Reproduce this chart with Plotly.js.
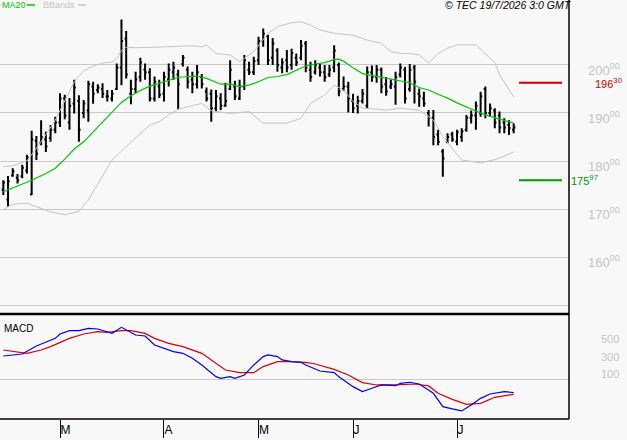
<!DOCTYPE html>
<html><head><meta charset="utf-8">
<script src="https://cdn.plot.ly/plotly-3.0.1.min.js"></script>
<style>html,body{margin:0;padding:0;background:#f8f8f8;}</style>
</head><body><div id="chart" style="width:627px;height:440px;"></div>
<script>
// ---- categories: trading days (Euronext calendar) ----
const startDate = '2026-02-12', endDate = '2026-07-17';
const holidays = ['2026-04-03', '2026-04-06', '2026-05-01'];
const monthLetters = ['J','F','M','A','M','J','J','A','S','O','N','D'];

// ---- OHLC series ----
const highs = [176.0,176.9,178.5,177.3,179.2,181.3,186.3,185.2,188.5,186.1,
187.5,189.2,194.1,193.8,193.1,196.9,193.7,192.7,196.7,196.5,
196.0,196.2,194.8,194.8,200.3,209.5,207.1,196.9,198.6,201.5,
200.3,199.3,197.6,196.9,198.6,200.3,200.7,199.0,202.1,199.7,
198.6,200.0,198.1,195.3,194.9,194.8,194.1,196.3,201.0,196.7,
196.9,202.1,200.7,201.7,205.9,207.6,206.3,205.6,203.5,201.4,
203.1,203.4,202.4,205.2,205.0,200.7,201.0,200.3,200.0,200.0,
204.1,200.5,197.6,196.5,194.0,193.6,195.0,199.7,199.9,200.0,
199.5,197.5,197.0,198.6,200.3,199.6,200.2,200.0,195.1,194.4,
190.6,190.6,186.5,182.5,185.8,186.1,186.5,186.8,189.6,190.5,
192.4,194.4,195.5,192.0,191.0,190.3,188.9,188.5,187.8];
const lows = [172.9,170.5,176.7,175.3,176.4,177.4,172.9,180.2,183.3,181.9,
184.0,185.8,187.1,188.7,186.5,189.9,184.0,188.9,188.2,191.9,
194.1,193.1,192.4,192.4,194.8,195.8,197.2,191.8,194.1,196.5,
196.9,192.4,192.4,193.1,192.4,195.5,196.9,190.8,199.7,195.1,
194.1,195.1,195.1,192.4,188.2,190.3,190.6,191.3,194.8,192.7,
192.7,194.8,197.9,197.9,200.0,203.8,200.0,200.0,198.6,198.3,
198.5,199.0,199.8,201.0,198.5,196.5,198.0,197.6,196.5,197.5,
198.5,193.5,194.6,190.1,190.0,189.9,192.0,191.0,196.5,196.3,
194.1,193.6,195.0,191.7,197.4,192.0,194.4,192.0,191.3,191.3,
187.2,183.3,183.3,176.7,183.7,184.0,183.3,184.0,186.1,187.8,
186.5,189.2,188.9,189.2,186.8,185.8,185.8,185.4,185.8];
const opens = [174.0,172.0,177.0,176.5,176.8,178.0,173.0,184.2,183.8,184.5,
184.8,186.5,188.0,193.0,188.0,192.0,192.5,190.0,190.5,195.5,
194.8,195.0,193.5,193.0,195.0,199.5,205.5,194.0,195.0,197.5,
199.0,198.5,193.0,195.5,194.0,197.0,198.5,198.0,200.2,199.0,
197.0,196.0,197.5,194.5,194.0,191.0,193.0,191.5,195.0,195.5,
193.0,195.5,199.0,198.5,201.0,205.0,206.0,201.5,203.0,199.5,
201.0,200.0,201.5,201.5,204.5,199.0,198.5,199.5,198.5,198.0,
199.5,200.0,195.0,195.5,192.5,191.5,192.5,191.5,198.5,197.5,
199.0,196.0,195.5,195.5,198.0,199.0,195.0,199.5,194.0,193.0,
190.0,189.0,185.5,182.0,184.0,185.5,184.0,185.0,186.5,189.0,
189.5,190.0,195.0,190.0,190.5,189.5,188.0,187.5,186.5];
const closes = [175.5,175.8,177.8,176.0,178.6,180.8,184.5,181.5,185.0,183.0,
186.5,188.0,193.0,189.5,191.5,195.3,186.5,192.0,196.0,194.0,
195.3,194.0,193.5,194.0,199.5,205.0,198.0,195.0,197.0,200.5,
198.5,193.0,196.5,193.8,197.5,199.0,199.5,196.0,201.5,196.5,
196.0,198.5,196.0,193.0,191.0,193.5,191.5,192.5,199.0,193.5,
195.5,201.0,198.5,200.8,205.0,206.5,201.0,204.5,200.0,200.5,
199.5,202.5,200.5,204.0,199.5,197.5,200.0,198.5,197.5,199.0,
203.0,194.5,195.5,193.0,191.0,192.5,194.0,198.5,197.5,199.0,
195.5,194.5,196.0,197.5,199.5,193.0,199.0,196.5,193.5,192.0,
189.0,185.0,184.0,180.5,185.0,184.5,186.0,186.2,189.0,189.5,
191.5,193.5,190.0,191.0,188.0,187.0,187.0,186.8,187.0];

// ---- MA20 (read at sampled bars) ----
const maIdx = [0,3,6,9,11,13,15,17,19,21,23,25,27,29,31,33,35,37,39,41,43,44,46,48,50,52,54,56,58,60,62,64,66,68,70,71,72,74,76,78,80,82,84,86,88,90,92,94,96,98,100,102,104,106,108];
const maVal = [173.6,174.8,176.0,177.4,178.5,180.4,182.5,184.0,186.0,188.0,190.0,192.2,193.6,194.7,195.6,196.2,196.7,197.4,197.6,197.7,197.2,196.8,196.0,196.0,195.5,195.8,196.5,197.4,197.6,198.0,198.9,199.8,200.2,200.5,201.1,201.2,200.8,199.4,198.2,197.8,197.5,197.0,196.6,196.3,195.3,194.8,193.9,193.1,192.1,191.2,190.4,189.6,189.0,188.5,187.9];

// ---- Bollinger bands (read at sampled bars) ----
const upIdx = [0,2,5,8,11,13,15,17,19,21,23,24,25,26,28,32,36,40,42,43,45,48,50,53,56,58,61,63,65,67,70,74,77,80,82,84,86,88,90,92,94,96,100,102,104,105,107,108];
const upVal = [178.8,179.0,180.0,184.0,188.5,192.5,196.5,198.8,199.8,200.4,200.6,201.5,203.0,203.7,203.6,203.7,203.8,204.0,203.8,204.2,202.4,202.1,200.7,202.8,206.6,208.0,208.8,209.0,208.3,207.3,206.6,206.2,205.2,204.5,202.8,202.4,202.4,202.1,200.4,202.4,203.5,204.2,204.2,202.4,200.5,197.9,194.8,193.3];
const loIdx = [0,2,5,7,10,13,16,18,20,23,26,29,31,33,35,37,39,41,42,44,48,52,55,60,63,65,67,68,70,72,74,76,79,81,84,88,91,93,95,97,99,101,104,106,108];
const loVal = [169.8,171.0,171.2,170.5,169.4,168.8,169.5,171.9,175.3,180.2,183.0,185.8,187.5,188.2,189.6,190.8,191.3,191.7,192.0,190.5,189.9,190.3,187.9,187.9,188.9,192.0,193.1,193.7,195.8,194.8,192.4,191.0,190.8,190.6,191.0,190.6,188.5,185.1,182.6,180.2,179.9,179.6,180.3,181.0,181.9];

// ---- MACD (read at sampled bars) ----
const macdIdx = [0,4,7,11,12,14,16,18,20,22,23,25,26,28,30,32,36,38,40,42,45,46,48,49,51,53,55,56,58,59,61,63,64,67,70,71,74,76,78,80,83,84,86,88,91,93,95,97,99,101,103,106,108];
const macdVal = [2.66,2.89,3.80,4.68,5.18,5.56,5.56,5.83,5.75,5.44,5.25,5.94,5.64,5.06,4.95,3.92,3.16,2.97,2.40,1.64,0.30,0.11,0.30,0.11,0.49,1.64,2.59,2.78,2.59,2.21,2.02,1.94,1.64,0.95,0.76,0.30,-0.84,-1.41,-1.03,-0.65,-0.73,-0.46,-0.34,-0.54,-1.60,-3.13,-3.39,-3.62,-2.94,-2.18,-1.68,-1.41,-1.52];
const sigIdx = [0,3,5,8,10,14,17,20,22,25,27,30,32,35,38,42,45,47,50,53,55,58,61,64,66,70,73,76,79,83,87,90,92,95,98,101,104,108];
const sigVal = [3.35,3.16,2.97,3.35,3.73,4.68,5.18,5.44,5.37,5.56,5.56,5.25,4.68,4.11,3.73,2.97,1.83,1.06,0.76,0.76,1.45,2.02,2.02,1.94,1.75,1.14,0.49,-0.38,-0.65,-0.65,-0.54,-0.76,-1.60,-2.29,-2.86,-2.75,-2.06,-1.72];

// ---- levels & tick labels ----
const resistance = 196.30, support = 175.97;
const priceTicks = [150,160,170,180,190,200];
const priceTickText = ['', '160<sup>00</sup>','170<sup>00</sup>','180<sup>00</sup>','190<sup>00</sup>','200<sup>00</sup>'];
const macdTicks = [1,3,5];
const macdTickText = ['100','300','500'];

// build trading-day categories
const dates = [];
(function(){
  let d = new Date(startDate + 'T00:00:00Z');
  const end = new Date(endDate + 'T00:00:00Z');
  while (d <= end) {
    const s = d.toISOString().slice(0,10);
    const wd = d.getUTCDay();
    if (wd !== 0 && wd !== 6 && holidays.indexOf(s) < 0) dates.push(s);
    d = new Date(d.getTime() + 86400000);
  }
})();
const tickDates = [], tickText = [];
for (let i = 1; i < dates.length; i++) {
  if (dates[i].slice(5,7) !== dates[i-1].slice(5,7)) {
    tickDates.push(dates[i]);
    tickText.push(monthLetters[parseInt(dates[i].slice(5,7),10)-1]);
  }
}
const toX = idx => idx.map(i => dates[i]);

const W = 569, H = 419; // plot area in px
const px = x => x / W;
const py = y => 1 - y / H;
const FONT = 'Liberation Sans, Arial, sans-serif';

const traces = [
  {type:'ohlc', x:dates, open:opens, high:highs, low:lows, close:closes, xaxis:'x', yaxis:'y',
   tickwidth:0.35, increasing:{line:{color:'#000', width:2}}, decreasing:{line:{color:'#000', width:2}}},
  {type:'scatter', mode:'lines', x:toX(upIdx), y:upVal, line:{color:'#c4c4c4', width:1}, xaxis:'x', yaxis:'y', hoverinfo:'skip'},
  {type:'scatter', mode:'lines', x:toX(loIdx), y:loVal, line:{color:'#c4c4c4', width:1}, xaxis:'x', yaxis:'y', hoverinfo:'skip'},
  {type:'scatter', mode:'lines', x:toX(maIdx), y:maVal, line:{color:'#00c800', width:1.2}, xaxis:'x', yaxis:'y', hoverinfo:'skip'},
  {type:'scatter', mode:'lines', x:toX(sigIdx), y:sigVal, line:{color:'#dd0000', width:1.2}, xaxis:'x', yaxis:'y2', hoverinfo:'skip'},
  {type:'scatter', mode:'lines', x:toX(macdIdx), y:macdVal, line:{color:'#0000ee', width:1.2}, xaxis:'x', yaxis:'y2', hoverinfo:'skip'}
];

const layout = {
  width:627, height:440,
  margin:{l:0, r:58, t:0, b:21, pad:0},
  paper_bgcolor:'#f8f8f8', plot_bgcolor:'#f8f8f8',
  showlegend:false,
  font:{family:FONT},
  xaxis:{type:'category', categoryorder:'array', categoryarray:dates, range:[-0.7, 119.7], anchor:'y2',
    tickvals:tickDates, ticktext:tickText,
    ticks:'outside', ticklen:18, tickcolor:'#000', tickwidth:1, ticklabelposition:'outside right',
    showgrid:false, zeroline:false, showline:false, rangeslider:{visible:false},
    tickfont:{family:FONT, size:12, color:'#000'}, fixedrange:true},
  yaxis:{domain:[(H-314)/H, 1], side:'right', range:[148.125, 213.54], tickvals:priceTicks, ticktext:priceTickText,
    showgrid:true, gridcolor:'#c8c8c8', gridwidth:1, zeroline:false, ticks:'', showline:false,
    ticklabelstandoff:18, ticklabelshift:5, tickfont:{family:FONT, size:13, color:'#c4c4c4'}, fixedrange:true},
  yaxis2:{domain:[0, (H-315)/H], side:'right', range:[-4.54, 7.35], tickvals:macdTicks, ticktext:macdTickText,
    showgrid:false, zeroline:true, zerolinecolor:'#c8c8c8', zerolinewidth:1, ticks:'', showline:false,
    ticklabelstandoff:31, ticklabelshift:4, tickfont:{family:FONT, size:11, color:'#c4c4c4'}, fixedrange:true},
  shapes:[
    {type:'line', xref:'paper', yref:'paper', x0:0, x1:1, y0:py(314), y1:py(314), line:{color:'#000', width:2.5}},
    {type:'line', xref:'paper', yref:'paper', x0:1, x1:1, y0:0, y1:1, line:{color:'#000', width:1.5}},
    {type:'line', xref:'paper', yref:'paper', x0:0, x1:1, y0:0, y1:0, line:{color:'#000', width:1.5}},
    {type:'line', xref:'paper', yref:'y', x0:px(519), x1:px(562), y0:resistance, y1:resistance, line:{color:'#cc0000', width:2}},
    {type:'line', xref:'paper', yref:'y', x0:px(519), x1:px(562), y0:support, y1:support, line:{color:'#009900', width:2}},
    {type:'line', xref:'paper', yref:'paper', x0:px(27), x1:px(35), y0:py(5), y1:py(5), line:{color:'#00c800', width:1.5}},
    {type:'line', xref:'paper', yref:'paper', x0:px(78), x1:px(86), y0:py(5), y1:py(5), line:{color:'#c4c4c4', width:1.5}}
  ],
  annotations:[
    {xref:'paper', yref:'paper', x:px(0), y:py(5), xanchor:'left', yanchor:'middle', showarrow:false,
     text:'MA20', font:{family:FONT, size:9, color:'#00c800'}},
    {xref:'paper', yref:'paper', x:px(41), y:py(5), xanchor:'left', yanchor:'middle', showarrow:false,
     text:'BBands', font:{family:FONT, size:9, color:'#c4c4c4'}},
    {xref:'paper', yref:'paper', x:px(574), y:py(5), xanchor:'right', yanchor:'middle', showarrow:false,
     text:'© TEC 19/7/2026 3:0 GMT', font:{family:FONT, size:10.5, color:'#000', style:'italic'}},
    {xref:'paper', yref:'paper', x:px(2), y:py(328), xanchor:'left', yanchor:'middle', showarrow:false,
     text:'MACD', font:{family:FONT, size:10, color:'#000'}},
    {xref:'paper', yref:'y', x:px(593), y:resistance, xanchor:'left', yanchor:'middle', showarrow:false,
     text:'196<sup>30</sup>', font:{family:FONT, size:11, color:'#cc0000'}},
    {xref:'paper', yref:'y', x:px(569), y:support, xanchor:'left', yanchor:'middle', showarrow:false,
     text:'175<sup>97</sup>', font:{family:FONT, size:11, color:'#009900'}}
  ]
};

Plotly.newPlot('chart', traces, layout, {displayModeBar:false, staticPlot:true});
</script></body></html>
